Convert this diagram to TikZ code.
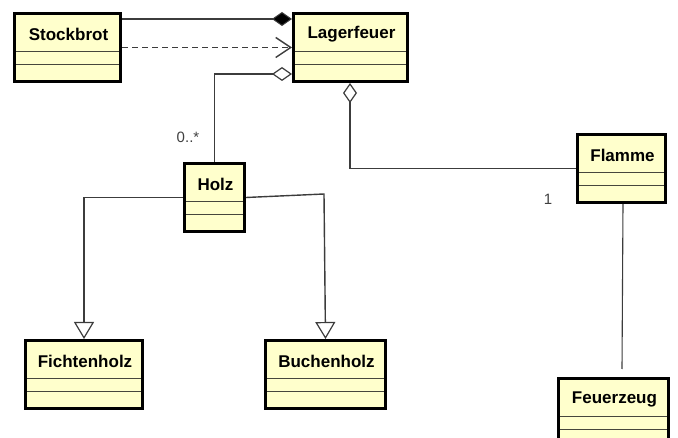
\documentclass[tikz,border=0pt]{standalone}
\usepackage{fontspec}
\setmainfont{Liberation Sans}
\usetikzlibrary{arrows.meta}
\definecolor{clsfill}{RGB}{255,255,204}
\definecolor{sepcol}{RGB}{70,70,60}
\definecolor{conncol}{RGB}{60,60,60}
\tikzset{
  cls/.style={draw=black, line width=3pt, fill=clsfill, inner sep=0pt, outer sep=1.5pt},
  clsname/.style={font=\bfseries\fontsize{17}{20}\selectfont, inner sep=0pt},
  sepline/.style={draw=sepcol, line width=1.4pt},
  conn/.style={draw=conncol, line width=1.4pt},
  mult/.style={font=\fontsize{15}{18}\selectfont, text=black!75, inner sep=0pt},
  compo/.style={-{Diamond[fill=black, length=20pt, width=14pt, line width=1pt]}},
  aggr/.style={-{Diamond[fill=white, length=20pt, width=14pt, line width=1.2pt]}},
  depend/.style={dash pattern=on 6pt off 4pt, -{Straight Barb[length=15pt, width=20pt, line width=1.4pt]}},
  general/.style={-{Triangle[fill=white, length=17pt, width=20pt, line width=1.2pt]}}
}
% \umlcls{name}{left}{top}{right}{label}
\newcommand{\umlcls}[5]{%
  \node[cls, minimum width={#4-#2-3}, minimum height=68pt] (#1) at ({(#2+#4)/2},{#3+35.5}) {};
  \draw[sepline] ([yshift=-39.5pt,xshift=1.5pt]#1.north west) -- ([yshift=-39.5pt,xshift=-1.5pt]#1.north east);
  \draw[sepline] ([yshift=-52.5pt,xshift=1.5pt]#1.north west) -- ([yshift=-52.5pt,xshift=-1.5pt]#1.north east);
  \draw[black, line width=3pt] (#1.north west) ++(1.5pt,-1.5pt) rectangle ([xshift=-1.5pt,yshift=1.5pt]#1.south east);
  \node[clsname] (#1-name) at ([xshift=1pt,yshift=-22pt]#1.north) {#5};
}
\begin{document}
\begin{tikzpicture}[x=1pt, y=-1pt]
\useasboundingbox (0,0) rectangle (678,438);
\fill[white] (0,0) rectangle (678,438);
\clip (0,0) rectangle (678,438);

\umlcls{stock}{13}{12}{122}{Stockbrot}
\umlcls{lager}{292}{12}{409}{Lagerfeuer}
\umlcls{holz}{183}{162}{246}{Holz}
\umlcls{flamme}{576}{133}{667}{Flamme}
\umlcls{ficht}{24}{339}{144}{Fichtenholz}
\umlcls{buch}{264}{339}{387}{Buchenholz}
\umlcls{feuer}{557}{377}{670}{Feuerzeug}

\coordinate (bk) at (324,194);
\coordinate (fz) at (622,369);

% composition
\draw[conn, compo] (stock.east |- 0,19) -- (lager.west |- 0,19);
% dependency
\draw[conn, depend] (stock.east) -- (lager.west);
% aggregation Holz
\draw[conn, aggr] (holz.north) |- (lager.west |- 0,74);
% aggregation Flamme
\draw[conn, aggr] (flamme.west) -| (lager.south -| 350,0);
% generalizations
\draw[conn, general] (holz.west) -| (ficht.north);
\draw[conn, general] (holz.east) -- (bk) -- (buch.north);
% Flamme - Feuerzeug
\draw[conn, line width=1.1pt] (flamme.south -| 623,0) -- (fz);

% multiplicities
\node[mult] (m1) at (188,137) {0..*};
\node[mult] (m2) at (548,199) {1};
\end{tikzpicture}
\end{document}
